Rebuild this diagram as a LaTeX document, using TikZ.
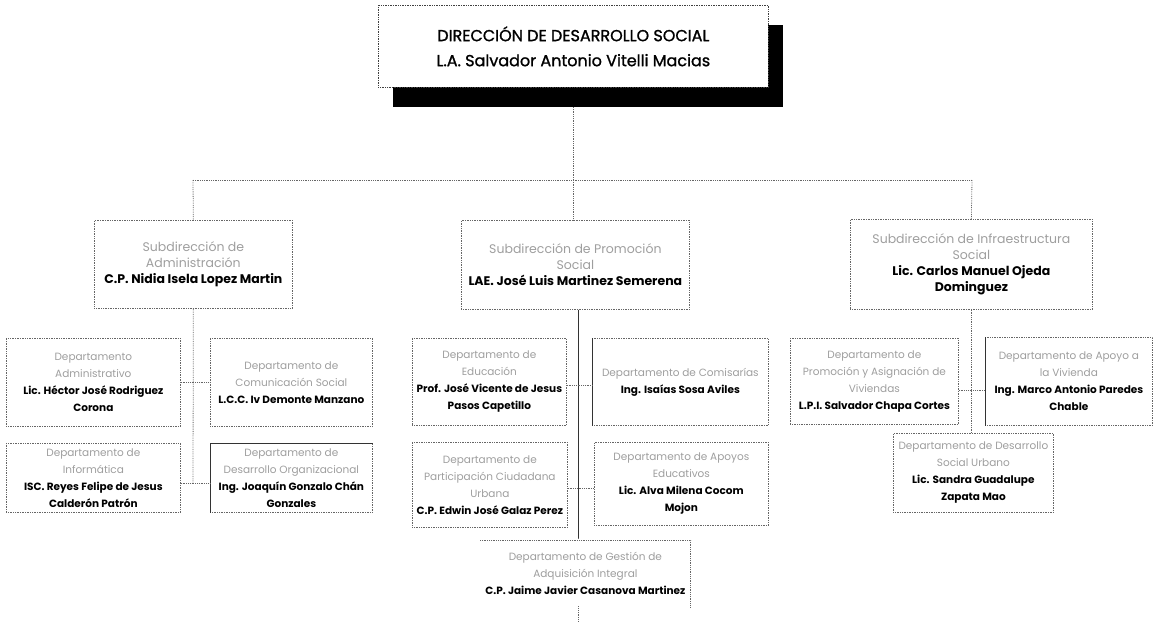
\documentclass[tikz,border=0pt]{standalone}
\usepackage{fontspec}
\setmainfont{Poppins}
\newfontfamily\titlefont[FakeBold=1.2]{Poppins}
\definecolor{lite}{gray}{0.62}
\definecolor{edge}{gray}{0.4}
\tikzset{
  box/.style={draw=edge, densely dotted, line width=0.7pt, inner sep=0pt, align=center},
  dept/.style={box, font=\fontsize{10.5}{17}\selectfont},
  sub/.style={box, font=\fontsize{12.5}{16}\selectfont},
  conn/.style={draw=edge, densely dotted, line width=0.8pt},
  solidedge/.style={draw=black!80, line width=0.8pt},
}
\newcommand{\lt}[1]{\textcolor{lite}{#1}}
\begin{document}
\begin{tikzpicture}[x=1pt,y=-1pt]
\useasboundingbox (0,0) rectangle (1155,626);
% top box with shadow
\fill[black] (393,25) rectangle (783,107);
\node[box, draw=black!75, fill=white, minimum width=390pt, minimum height=82pt, anchor=north west, font=\titlefont\fontsize{16}{25}\selectfont] (top) at (378,5)
  {DIRECCIÓN DE DESARROLLO SOCIAL\\L.A. Salvador Antonio Vitelli Macias};
\coordinate (ts) at (573,107);
\coordinate (hl) at (193,180);
\coordinate (hm) at (573,180);
\coordinate (hr) at (972,180);
% subdirections
\node[sub, minimum width=198pt, minimum height=88pt, anchor=north west] (s1) at (94,220)
  {\lt{Subdirección de}\\\lt{Administración}\\\textbf{C.P. Nidia Isela Lopez Martin}};
\node[sub, minimum width=228pt, minimum height=89pt, anchor=north west] (s2) at (461,220)
  {\lt{Subdirección de Promoción}\\\lt{Social}\\\textbf{LAE. José Luis Martinez Semerena}};
\node[sub, minimum width=242pt, minimum height=90pt, anchor=north west] (s3) at (850,219)
  {\lt{Subdirección de Infraestructura}\\\lt{Social}\\\textbf{Lic. Carlos Manuel Ojeda}\\\textbf{Dominguez}};
\draw[conn] (ts) -- (hm);
\draw[conn] (hl) -- (hr);
\draw[conn] (hl) -- (s1.north);
\draw[conn] (hm) -- (s2.north -| hm);
\draw[conn] (hr) -- (s3.north);
% left departments
\node[dept, minimum width=174pt, minimum height=88pt, anchor=north west] (a) at (6,338)
  {\lt{Departamento}\\\lt{Administrativo}\\\textbf{Lic. Héctor José Rodriguez}\\\textbf{Corona}};
\node[dept, minimum width=162pt, minimum height=88pt, anchor=north west] (b) at (210,338)
  {\lt{Departamento de}\\\lt{Comunicación Social}\\\textbf{L.C.C. Iv Demonte Manzano}};
\node[dept, minimum width=174pt, minimum height=69pt, anchor=north west] (c) at (6,443)
  {\lt{Departamento de}\\\lt{Informática}\\\textbf{ISC. Reyes Felipe de Jesus}\\\textbf{Calderón Patrón}};
\node[dept, minimum width=162pt, minimum height=69pt, anchor=north west] (d) at (210,443)
  {\lt{Departamento de}\\\lt{Desarrollo Organizacional}\\\textbf{Ing. Joaquín Gonzalo Chán}\\\textbf{Gonzales}};
\draw[solidedge] (d.south west) -- (d.north west) -- (d.north east);
\coordinate (l1) at (193,483);
\draw[conn] (s1.south) -- (l1);
\draw[conn] (a.east |- 0,382) -- (b.west |- 0,382);
\draw[conn] (c.east |- 0,483) -- (d.west |- 0,483);
% middle departments
\coordinate (mb) at (578,538);
\coordinate (m1) at (578,622);
\draw[solidedge] (s2.south -| mb) -- (mb);
\draw[conn] (mb) -- (m1);
\node[dept, minimum width=154pt, minimum height=87pt, anchor=north west] (e) at (412,338)
  {\lt{Departamento de}\\\lt{Educación}\\\textbf{Prof. José Vicente de Jesus}\\\textbf{Pasos Capetillo}};
\node[dept, minimum width=176pt, minimum height=87pt, anchor=north west] (f) at (592,338)
  {\lt{Departamento de Comisarías}\\\textbf{Ing. Isaías Sosa Aviles}};
\draw[solidedge] (f.south west) -- (f.north west);
\node[dept, minimum width=155pt, minimum height=85pt, anchor=north west] (g) at (412,442)
  {\lt{Departamento de}\\\lt{Participación Ciudadana}\\\lt{Urbana}\\\textbf{C.P. Edwin José Galaz Perez}};
\node[dept, minimum width=174pt, minimum height=83pt, anchor=north west] (h) at (594,442)
  {\lt{Departamento de Apoyos}\\\lt{Educativos}\\\textbf{Lic. Alva Milena Cocom}\\\textbf{Mojon}};
\node[dept, draw=none, fill=white, minimum width=210pt, minimum height=66pt, anchor=north west] (k0) at (480,540)
  {\lt{Departamento de Gestión de}\\\lt{Adquisición Integral}\\\textbf{C.P. Jaime Javier Casanova Martinez}};
\draw[conn] (k0.north west) -- (k0.north east) -- (k0.south east);
\draw[conn] (e.east |- 0,385) -- (f.west |- 0,385);
\draw[conn] (g.east |- 0,488) -- (h.west |- 0,488);
% right departments
\node[dept, minimum width=168pt, minimum height=86pt, anchor=north west] (i) at (790,338)
  {\lt{Departamento de}\\\lt{Promoción y Asignación de}\\\lt{Viviendas}\\\textbf{L.P.I. Salvador Chapa Cortes}};
\node[dept, minimum width=167pt, minimum height=88pt, anchor=north west] (j) at (985,337)
  {\lt{Departamento de Apoyo a}\\\lt{la Vivienda}\\\textbf{Ing. Marco Antonio Paredes}\\\textbf{Chable}};
\draw[solidedge] (j.south west) -- (j.north west);
\node[dept, minimum width=160pt, minimum height=79pt, anchor=north west] (k) at (893,433)
  {\lt{Departamento de Desarrollo}\\\lt{Social Urbano}\\\textbf{Lic. Sandra Guadalupe}\\\textbf{Zapata Mao}};
\draw[conn] (s3.south) -- (k.north -| s3.south);
\draw[conn] (i.east |- 0,390) -- (j.west |- 0,390);
\end{tikzpicture}
\end{document}
